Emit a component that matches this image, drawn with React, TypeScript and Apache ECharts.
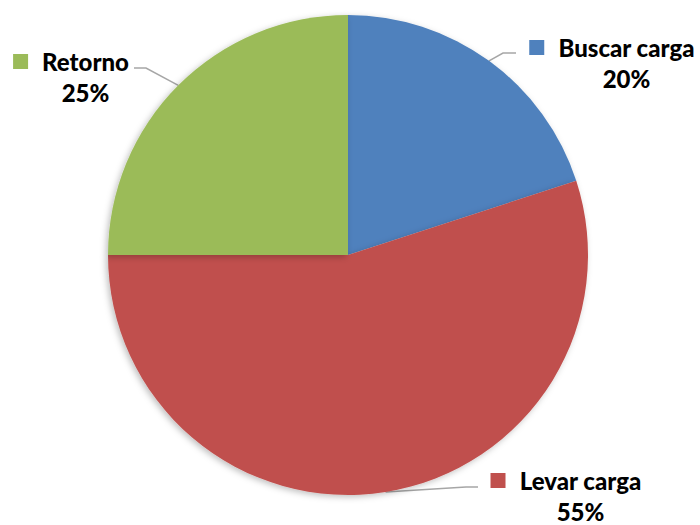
import React, { useEffect, useRef } from "react";
import * as echarts from "echarts";

const categories = ["Buscar carga", "Levar carga", "Retorno"];
const values = [20, 55, 25];
const colors = ["#4F81BD", "#C0504D", "#9BBB59"];
// label block centres (pixels)
const labelPos = [
  [612, 63],
  [566, 496],
  [71, 77],
];
// label line elbow and end points (pixels)
const lineEnds = [
  [[503, 53], [516, 53]],
  [[466, 487], [478, 487]],
  [[146, 68], [134, 68]],
];

export default function App() {
  const ref = useRef<HTMLDivElement>(null);
  useEffect(() => {
    document.body.style.margin = "0";
    const chart = echarts.init(ref.current!, null, { renderer: "svg" });
    const rich: any = {
      t: {
        fontFamily: "Lato",
        fontWeight: 900,
        fontSize: 24,
        color: "#000",
        lineHeight: 31,
      },
      g: { width: 14 },
      s: { width: 29 },
    };
    colors.forEach((c, i) => {
      rich["m" + i] = { width: 15, height: 15, backgroundColor: c };
    });
    chart.setOption({
      animation: false,
      backgroundColor: "#fff",
      series: [
        {
          type: "pie",
          center: [348, 255],
          radius: 240,
          startAngle: 90,
          clockwise: true,
          data: categories.map((n, i) => ({
            name: n,
            value: values[i],
            itemStyle: { color: colors[i] },
          })),
          itemStyle: {
            shadowBlur: 6,
            shadowColor: "rgba(0,0,0,0.25)",
            shadowOffsetX: -2,
            shadowOffsetY: 2,
          },
          label: {
            show: true,
            position: "outside",
            overflow: "none",
            width: 300,
            formatter: (p: any) =>
              `{m${p.dataIndex}|}{g|}{t|${p.name}}\n{s|}{t|${p.value}%}`,
            rich,
            align: "center",
          },
          labelLine: {
            show: true,
            lineStyle: { color: "#A6A6A6", width: 1.5 },
          },
          labelLayout: (params: any) => {
            const i = params.dataIndex;
            const [x, y] = labelPos[i];
            const start = params.labelLinePoints
              ? params.labelLinePoints[0]
              : null;
            const out: any = { x, y, align: "center", verticalAlign: "middle" };
            if (start) {
              out.labelLinePoints = [start, lineEnds[i][0], lineEnds[i][1]];
            }
            return out;
          },
          emphasis: { disabled: true },
        },
      ],
    });
    return () => chart.dispose();
  }, []);
  return <div ref={ref} style={{ width: 700, height: 525 }} />;
}
